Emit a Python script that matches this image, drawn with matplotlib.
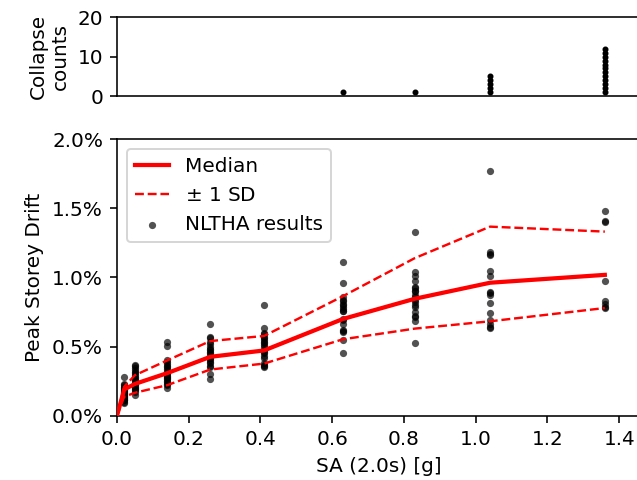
"""
Peak storey drift vs SA(2.0s) with collapse counts per intensity level.
Top: collapse counts (stacked dots). Bottom: NLTHA results with median +/- 1 SD.
"""
import numpy as np
import matplotlib
matplotlib.use("Agg")
import matplotlib.pyplot as plt
import matplotlib.ticker as mticker

OUT_FILE = "out.png"
DPI = 144

# intensity levels, SA(2.0s) [g]
SA_LEVELS = [0.02, 0.05, 0.14, 0.26, 0.41, 0.63, 0.83, 1.04, 1.36]

# number of collapsed records at each level
COLLAPSES = [0, 0, 0, 0, 0, 1, 1, 5, 12]

# peak storey drift [%] of non-collapsed records, one list per level
DRIFT_L1 = [0.282, 0.23, 0.22, 0.21, 0.20, 0.19, 0.186, 0.18, 0.17, 0.162,
            0.16, 0.15, 0.14, 0.137, 0.13, 0.12, 0.113, 0.11, 0.10, 0.09]
DRIFT_L2 = [0.367, 0.36, 0.343, 0.33, 0.318, 0.31, 0.294, 0.28, 0.27, 0.258,
            0.25, 0.24, 0.23, 0.222, 0.21, 0.20, 0.19, 0.186, 0.17, 0.15]
DRIFT_L3 = [0.535, 0.504, 0.403, 0.39, 0.374, 0.36, 0.35, 0.34, 0.326, 0.31,
            0.302, 0.29, 0.282, 0.27, 0.263, 0.25, 0.246, 0.23, 0.222, 0.203]
DRIFT_L4 = [0.661, 0.572, 0.56, 0.535, 0.52, 0.499, 0.48, 0.475, 0.463, 0.45,
            0.439, 0.42, 0.415, 0.403, 0.39, 0.379, 0.36, 0.35, 0.30, 0.263]
DRIFT_L5 = [0.801, 0.632, 0.596, 0.59, 0.572, 0.56, 0.548, 0.53, 0.524, 0.51,
            0.499, 0.475, 0.46, 0.451, 0.43, 0.415, 0.379, 0.37, 0.36, 0.35]
DRIFT_L6 = [1.115, 0.962, 0.858, 0.84, 0.827, 0.81, 0.798, 0.79, 0.774, 0.76,
            0.757, 0.70, 0.695, 0.66, 0.623, 0.61, 0.606, 0.546, 0.45]
DRIFT_L7 = [1.331, 1.042, 1.011, 0.977, 0.93, 0.922, 0.904, 0.90, 0.87, 0.861,
            0.84, 0.825, 0.80, 0.789, 0.753, 0.72, 0.716, 0.687, 0.528]
DRIFT_L8 = [1.773, 1.182, 1.170, 1.160, 1.049, 1.011, 0.897, 0.885, 0.875,
            0.813, 0.745, 0.692, 0.66, 0.645, 0.632]
DRIFT_L9 = [1.481, 1.409, 1.404, 0.977, 0.832, 0.808, 0.789, 0.777]
DRIFTS = [DRIFT_L1, DRIFT_L2, DRIFT_L3, DRIFT_L4, DRIFT_L5,
          DRIFT_L6, DRIFT_L7, DRIFT_L8, DRIFT_L9]

# fitted statistics [%], curves start at the origin
MEDIAN = [0.19, 0.23, 0.308, 0.426, 0.472, 0.70, 0.846, 0.962, 1.019]
PLUS_SD = [0.21, 0.293, 0.40, 0.54, 0.577, 0.865, 1.14, 1.368, 1.332]
MINUS_SD = [0.137, 0.166, 0.221, 0.334, 0.377, 0.553, 0.63, 0.683, 0.779]

XMAX = 1.458


def main():
    fig = plt.figure(figsize=(637 / DPI, 480 / DPI), dpi=DPI)
    ax_c = fig.add_axes([0.1837, 0.800, 0.8210, 0.164])
    ax = fig.add_axes([0.1837, 0.134, 0.8210, 0.5758])

    # collapse counts as stacked dots
    for sa, n in zip(SA_LEVELS, COLLAPSES):
        if n:
            ax_c.plot([sa] * n, np.arange(1, n + 1), "k.", ms=4)
    ax_c.set_ylim(0, 20)
    ax_c.set_yticks([0, 10, 20])
    ax_c.set_xlim(0, XMAX)
    ax_c.set_xticks([])
    ax_c.set_ylabel("Collapse\ncounts")

    # NLTHA scatter
    for k, (sa, d) in enumerate(zip(SA_LEVELS, DRIFTS)):
        ax.scatter([sa] * len(d), d, s=13, color="k", alpha=0.68, lw=0,
                   label="NLTHA results" if k == 0 else None, zorder=2)

    xs = [0.0] + SA_LEVELS
    ax.plot(xs, [0.0] + MEDIAN, color="red", lw=2.1, label="Median", zorder=3)
    ax.plot(xs, [0.0] + PLUS_SD, color="red", lw=1.2, ls="--",
            label="$\\pm$ 1 SD", zorder=3)
    ax.plot(xs, [0.0] + MINUS_SD, color="red", lw=1.2, ls="--", zorder=3)

    ax.set_xlim(0, XMAX)
    ax.set_ylim(0, 2.0)
    ax.set_xticks(np.arange(0, 1.41, 0.2))
    ax.set_yticks(np.arange(0, 2.01, 0.5))
    ax.yaxis.set_major_formatter(mticker.FuncFormatter(lambda v, p: f"{v:.1f}%"))
    ax.set_xlabel("SA (2.0s) [g]")
    ax.set_ylabel("Peak Storey Drift")

    handles, labels = ax.get_legend_handles_labels()
    order = [labels.index(l) for l in ["Median", "$\\pm$ 1 SD", "NLTHA results"]]
    ax.legend([handles[i] for i in order], [labels[i] for i in order],
              loc="upper left", handlelength=1.7)

    fig.savefig(OUT_FILE, dpi=DPI)


if __name__ == "__main__":
    main()
